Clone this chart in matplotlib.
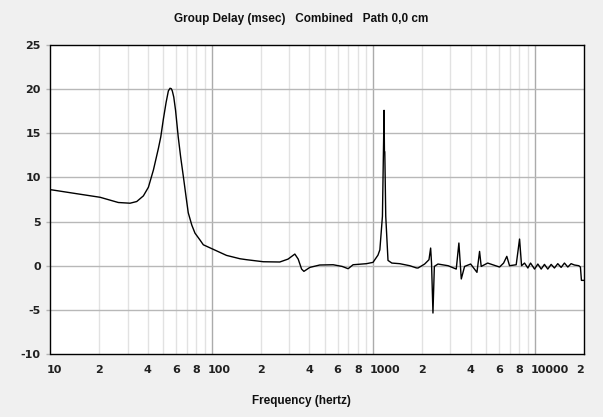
import matplotlib
matplotlib.use("Agg")
import matplotlib.pyplot as plt
import matplotlib.transforms as mtransforms

# ---- data ----
freq_hz = [10, 10.2, 13.9, 20.3, 26.3, 31.1, 34.2, 37.6, 40.4, 43.4, 46.6, 48.2, 50.0, 52.0, 53.7,
           55.0, 56.0, 56.8, 58.0, 59.5, 61.8, 64.0, 66.5, 69.0, 71.3, 75, 78.5, 84.4, 88.4, 102,
           123, 149, 164, 208, 263, 296, 326, 342, 359, 371, 404, 465, 563, 640, 697, 748, 905,
           994, 1067, 1096, 1137, 1164, 1170, 1176, 1192, 1231, 1300, 1455, 1679, 1845, 1889,
           2076, 2208, 2261, 2290, 2337, 2384, 2510, 2900, 3258, 3383, 3500, 3669, 4000, 4377,
           4543, 4650, 5100, 6040, 6400, 6700, 6965, 7660, 8036, 8268, 8626, 9045, 9400, 9950,
           10430, 10940, 11460, 12020, 12610, 13210, 13860, 14540, 15240, 15990, 16760,
           17580, 18700, 19140, 19420, 20000]
delay_ms = [8.6, 8.59, 8.21, 7.75, 7.16, 7.08, 7.27, 7.91, 8.89, 10.85, 13.3, 14.6, 16.6, 18.5, 19.8,
            20.1, 20.05, 19.8, 19.1, 17.6, 14.6, 12.3, 10.1, 7.9, 6.0, 4.6, 3.69, 2.9, 2.37, 1.85,
            1.17, 0.79, 0.68, 0.45, 0.42, 0.75, 1.32, 0.75, -0.38, -0.64, -0.19, 0.08, 0.11, -0.08,
            -0.34, 0.11, 0.23, 0.38, 1.2, 1.8, 5.6, 17.6, 12.9, 12.9, 5.6, 0.6, 0.3, 0.23, 0.0,
            -0.25, -0.26, 0.19, 0.68, 2.0, 0.3, -5.36, -0.08, 0.19, 0.0, -0.38, 2.57, -1.5,
            -0.08, 0.19, -0.75, 1.62, -0.08, 0.3, -0.15, 0.3, 1.06, 0.0, 0.11, 3.02, 0.0, 0.3,
            -0.26, 0.3, -0.38, 0.19, -0.38, 0.15, -0.38, 0.15, -0.26, 0.23, -0.19, 0.3, -0.15,
            0.23, 0.08, 0.0, -0.15, -1.66, -1.66]

x_ticks = [10, 20, 40, 60, 80, 100, 200, 400, 600, 800, 1000, 2000, 4000, 6000, 8000, 10000, 20000]
x_tick_labels = ["10", "2", "4", "6", "8", "100", "2", "4", "6", "8", "1000", "2", "4", "6", "8", "10000", "2"]
major_x = [100, 1000, 10000]
minor_x = [20, 30, 40, 50, 60, 70, 80, 90,
           200, 300, 400, 500, 600, 700, 800, 900,
           2000, 3000, 4000, 5000, 6000, 7000, 8000, 9000]
y_ticks = [-10, -5, 0, 5, 10, 15, 20, 25]
y_grid = [-5, 0, 5, 10, 15, 20]

title_text = "Group Delay (msec)   Combined   Path 0,0 cm"
xlabel_text = "Frequency (hertz)"

# ---- figure ----
W, H, DPI = 603, 417, 100
fig = plt.figure(figsize=(W / DPI, H / DPI), dpi=DPI, facecolor="#f0f0f0")
left, right, top, bottom = 50.5, 583.5, 45, 354
ax = fig.add_axes([left / W, (H - bottom) / H, (right - left) / W, (bottom - top) / H])
ax.set_facecolor("white")
ax.set_xscale("log")
ax.set_xlim(10, 20000)
ax.set_ylim(-10, 25)

for v in minor_x:
    ax.axvline(v, color="#e2e2e2", lw=1.0, zorder=1)
for v in major_x:
    ax.axvline(v, color="#ababab", lw=1.0, zorder=1)
for v in y_grid:
    ax.axhline(v, color="#b8b8b8", lw=1.0, zorder=1)

ax.plot(freq_hz, delay_ms, color="black", lw=1.0, zorder=3, antialiased=True)

for s in ax.spines.values():
    s.set_color("black")
    s.set_linewidth(1.0)

tick_font = dict(family="DejaVu Sans", size=8, weight="bold")
ax.set_yticks(y_ticks)
ax.set_yticklabels([str(v) for v in y_ticks], fontdict=tick_font, color="#202020")
ax.tick_params(axis="y", length=3, width=1, color="#b4b4b4", pad=4)

ax.set_xticks(x_ticks)
ax.set_xticklabels(x_tick_labels, fontdict=tick_font, color="#202020")
ax.xaxis.set_minor_locator(matplotlib.ticker.NullLocator())
ax.tick_params(axis="x", length=0, pad=8)

for val, lbl in zip(x_ticks, ax.get_xticklabels()):
    if val in (10, 100, 1000, 10000):
        lbl.set_ha("left")
        lbl.set_transform(lbl.get_transform() +
                          mtransforms.ScaledTranslation(-3 / 72, 0, fig.dpi_scale_trans))
    elif val == 20000:
        lbl.set_ha("right")

fig.text(0.5, 1 - 19 / H, title_text, ha="center", va="center",
         fontsize=8.5, fontweight="bold", family="Liberation Sans", color="#101010")
fig.text(0.5, 1 - 401 / H, xlabel_text, ha="center", va="center",
         fontsize=8.5, fontweight="bold", family="Liberation Sans", color="#101010")

fig.savefig("out.png", dpi=DPI, facecolor=fig.get_facecolor())
